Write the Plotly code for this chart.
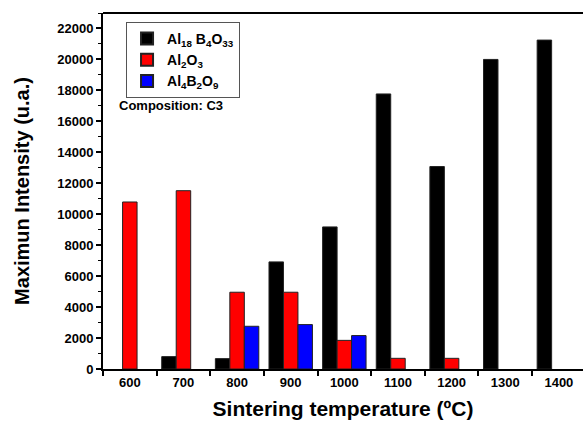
import plotly.graph_objects as go

categories = ["600", "700", "800", "900", "1000", "1100", "1200", "1300", "1400"]
al18b4o33 = [None, 800, 670, 6920, 9180, 17770, 13080, 20000, 21250]
al2o3 = [10790, 11520, 4960, 4960, 1850, 690, 690, None, None]
al4b2o9 = [None, None, 2760, 2870, 2160, None, None, None, None]

series_names = ["<b>Al<sub>18</sub> B<sub>4</sub>O<sub>33</sub></b>", "<b>Al<sub>2</sub>O<sub>3</sub></b>", "<b>Al<sub>4</sub>B<sub>2</sub>O<sub>9</sub></b>"]
series_colors = ["#000000", "#ff0000", "#0000ff"]
y_ticks = [0, 2000, 4000, 6000, 8000, 10000, 12000, 14000, 16000, 18000, 20000, 22000]

FONT = "Arial, Liberation Sans, sans-serif"

fig = go.Figure()
for name, vals, col in zip(series_names, [al18b4o33, al2o3, al4b2o9], series_colors):
    fig.add_trace(go.Bar(
        x=categories, y=vals, name=name,
        marker=dict(color=col, line=dict(color="#222222", width=1)),
    ))

fig.update_layout(
    width=583, height=425,
    margin=dict(l=103, r=0, t=13, b=56, autoexpand=False),
    paper_bgcolor="white", plot_bgcolor="white",
    barmode="group", bargap=0.19, bargroupgap=0,
    font=dict(family=FONT, color="black"),
    showlegend=True,
    legend=dict(
        x=0.048, y=0.975, xanchor="left", yanchor="top",
        bordercolor="#555555", borderwidth=1, bgcolor="white",
        font=dict(family=FONT, size=14, color="black"),
        tracegroupgap=0, itemsizing="constant",
    ),
    annotations=[dict(
        text="<b>Composition: C3</b>", xref="paper", yref="paper",
        x=0.141, y=0.74, xanchor="center", yanchor="middle",
        showarrow=False, font=dict(family=FONT, size=13, color="black"),
    )],
)

fig.update_xaxes(
    type="category", range=[-0.5, 8.45], automargin=False,
    showline=True, linecolor="black", linewidth=2, mirror=False,
    ticks="outside", tickson="boundaries", ticklen=5, tickwidth=1.5, tickcolor="black",
    tickfont=dict(family=FONT, size=13, color="black", weight="bold"),
    title=dict(text="<b>Sintering temperature (ºC)</b>", font=dict(family=FONT, size=21, color="black"), standoff=13),
    showgrid=False,
)
fig.update_yaxes(
    range=[0, 23000], tickvals=y_ticks, tickformat="d", automargin=False,
    showline=True, linecolor="black", linewidth=2,
    ticks="outside", ticklen=5, tickwidth=1.5, tickcolor="black",
    minor=dict(dtick=1000, ticks="outside", ticklen=3, tickcolor="black", tickwidth=1),
    tickfont=dict(family=FONT, size=13, color="black", weight="bold"),
    title=dict(text="<b>Maximun Intensity (u.a.)</b>", font=dict(family=FONT, size=20, color="black"), standoff=22),
    showgrid=False, zeroline=False,
)
# top axis line
fig.add_shape(type="line", xref="paper", yref="paper", x0=0, x1=1, y0=1, y1=1,
              line=dict(color="black", width=2))

fig.write_html("out.html", config={"displayModeBar": False},
               post_script="document.body.style.margin='0px';")
